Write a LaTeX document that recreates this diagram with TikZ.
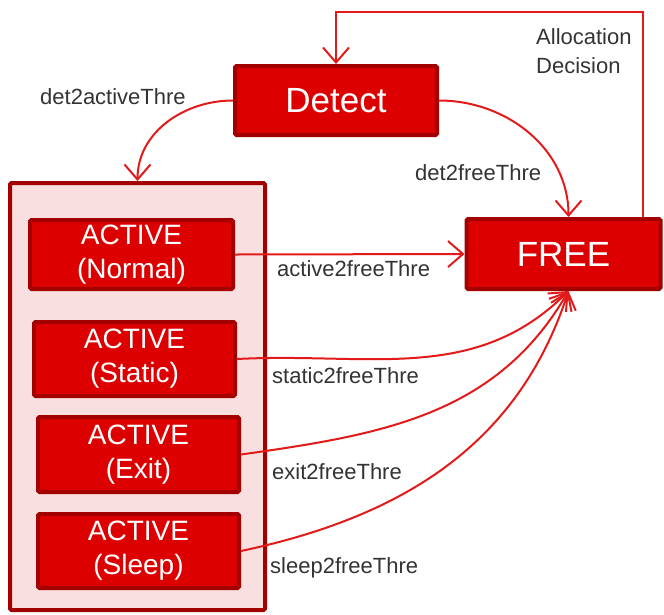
\documentclass[tikz,border=0pt]{standalone}
\usepackage{fontspec}
\setmainfont{Liberation Sans}
\usetikzlibrary{arrows.meta}
\definecolor{boxred}{HTML}{DD0000}
\definecolor{edgered}{HTML}{A30000}
\definecolor{linered}{HTML}{E21A1A}
\definecolor{groupfill}{HTML}{F9DFDF}
\definecolor{labelgray}{HTML}{333333}
\begin{document}
\begin{tikzpicture}[x=1pt,y=1pt,
    state/.style={draw=edgered, fill=boxred, line width=4pt, rounded corners=1.5pt,
      text=white, inner sep=0pt, align=center},
    big/.style={font=\fontsize{35}{40}\selectfont},
    act/.style={state, minimum width=201pt, minimum height=74pt,
      font=\fontsize{28}{34}\selectfont},
    thre/.style={text=labelgray, font=\fontsize{22}{29}\selectfont, inner sep=0pt,
      anchor=base west, align=left},
    arr/.style={draw=linered, line width=2pt, -{Straight Barb[length=15pt,width=26pt]}}]
    \useasboundingbox (0,0) rectangle (664,-614);

    \node (G) [draw=edgered, fill=groupfill, line width=4pt, rounded corners=1.5pt,
      minimum width=255pt, minimum height=427pt] at (137.5,-396.5) {};

    \node (R0) [state, big, minimum width=202pt, minimum height=69pt] at (336,-100.5) {Detect};
    \node (R1) [state, big, minimum width=194pt, minimum height=70pt] at (563.5,-254) {FREE};
    \node (R2) [act, minimum width=203pt, minimum height=69pt] at (131.5,-254.5) {ACTIVE\\(Normal)};
    \node (R3) [act] at (134.5,-359) {ACTIVE\\(Static)};
    \node (R4) [act, minimum height=75pt] at (138.5,-454.5) {ACTIVE\\(Exit)};
    \node (R5) [act] at (138.5,-551) {ACTIVE\\(Sleep)};

    \node (T0) [thre] at (40,-104) {det2activeThre};
    \node (T1) [thre] at (415,-180) {det2freeThre};
    \node (T2) [thre] at (536,-73) {Allocation\\Decision};
    \node (T3) [thre] at (277,-276) {active2freeThre};
    \node (T4) [thre] at (272,-383) {static2freeThre};
    \node (T5) [thre] at (272,-479) {exit2freeThre};
    \node (T6) [thre] at (270,-573) {sleep2freeThre};

    \coordinate (L) at (500,-12);

    \draw[arr] (R0.west) to[out=180,in=90] (G.north);
    \draw[arr] (R0.east) to[out=0,in=90] ([xshift=5pt]R1.north);
    \draw[arr] ([xshift=79.5pt]R1.north) |- (L) -| (R0.north);
    \draw[arr] (R2.east) -- (R1.west);
    \draw[arr] (R3.east) to[out=3,in=225] ([xshift=5pt]R1.south);
    \draw[arr] (R4.east) to[out=8,in=240] ([xshift=5pt]R1.south);
    \draw[arr] (R5.east) to[out=12,in=252] ([xshift=5pt]R1.south);
  \end{tikzpicture}
\end{document}
